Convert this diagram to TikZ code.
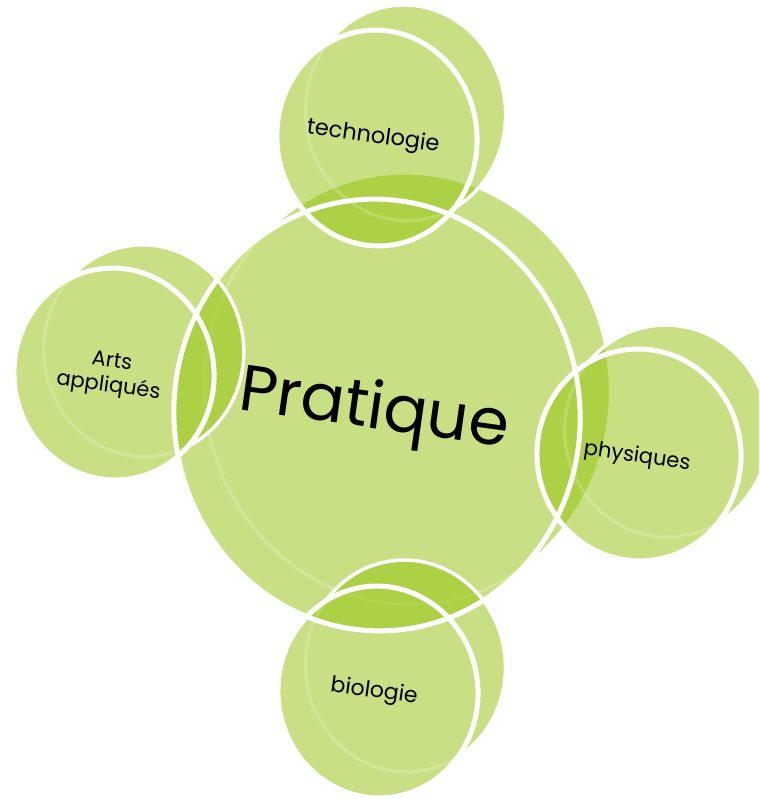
\documentclass[tikz,border=0pt]{standalone}
\usepackage{fontspec}
\setmainfont{Poppins}
\definecolor{coin}{RGB}{146,194,8}
\tikzset{
  coinfill/.style={fill=coin, fill opacity=0.5},
  backline/.style={draw=white, line width=3.5pt},
  faintline/.style={draw=white, draw opacity=0.18, line width=3pt},
  frontline/.style={draw=white, line width=5pt},
  lbl/.style={rotate=-8, text=black, inner sep=0pt, align=center},
}
% #1 cx, #2 cy, #3 rx, #4 ry, #5 dx, #6 dy
\newcommand{\coinbody}[6]{%
  \begin{scope}[rotate around={6:(#1,#2)}]
    \begin{scope}[even odd rule]
      \clip (#1-500,#2-500) rectangle (#1+500,#2+500)
        (#1,#2) ellipse [x radius=#3, y radius=#4];
      \fill[coinfill, nonzero rule] (#1+#5,#2+#6) ellipse [x radius=#3, y radius=#4];
      \draw[backline] (#1+#5,#2+#6) ellipse [x radius=#3, y radius=#4];
    \end{scope}
    \fill[coinfill] (#1,#2) ellipse [x radius=#3, y radius=#4];
    \draw[faintline] (#1+#5,#2+#6) ellipse [x radius=#3, y radius=#4];
  \end{scope}}
\newcommand{\coinrim}[4]{%
  \draw[frontline, rotate around={6:(#1,#2)}] (#1,#2) ellipse [x radius=#3, y radius=#4];}
\begin{document}
\begin{tikzpicture}[x=1pt,y=-1pt]
\useasboundingbox (0,0) rectangle (759,799);
\clip (0,0) rectangle (759,799);
% bodies: centre first, then satellites
\coinbody{377}{415}{203}{216}{33}{-23}
\coinbody{377}{138}{100}{108}{31}{-22}
\coinbody{114}{374}{100}{106}{32}{-20}
\coinbody{639}{455}{102}{106}{30}{-21}
\coinbody{378}{692}{100}{106}{30}{-23}
% front rims
\coinrim{377}{415}{203}{216}
\coinrim{377}{138}{100}{108}
\coinrim{114}{374}{100}{106}
\coinrim{639}{455}{102}{106}
\coinrim{378}{692}{100}{106}
% labels
\node[lbl, font=\fontsize{65}{72}\selectfont] (pratique) at (374,412) {Pratique};
\node[lbl, font=\fontsize{22.5}{26}\selectfont] (techno) at (373,137) {technologie};
\node[lbl, font=\fontsize{21}{25}\selectfont] (arts) at (110,375) {Arts\\appliqués};
\node[lbl, font=\fontsize{21}{24}\selectfont] (phys) at (637,457) {physiques};
\node[lbl, font=\fontsize{22}{24}\selectfont] (bio) at (374,692) {biologie};
\end{tikzpicture}
\end{document}
